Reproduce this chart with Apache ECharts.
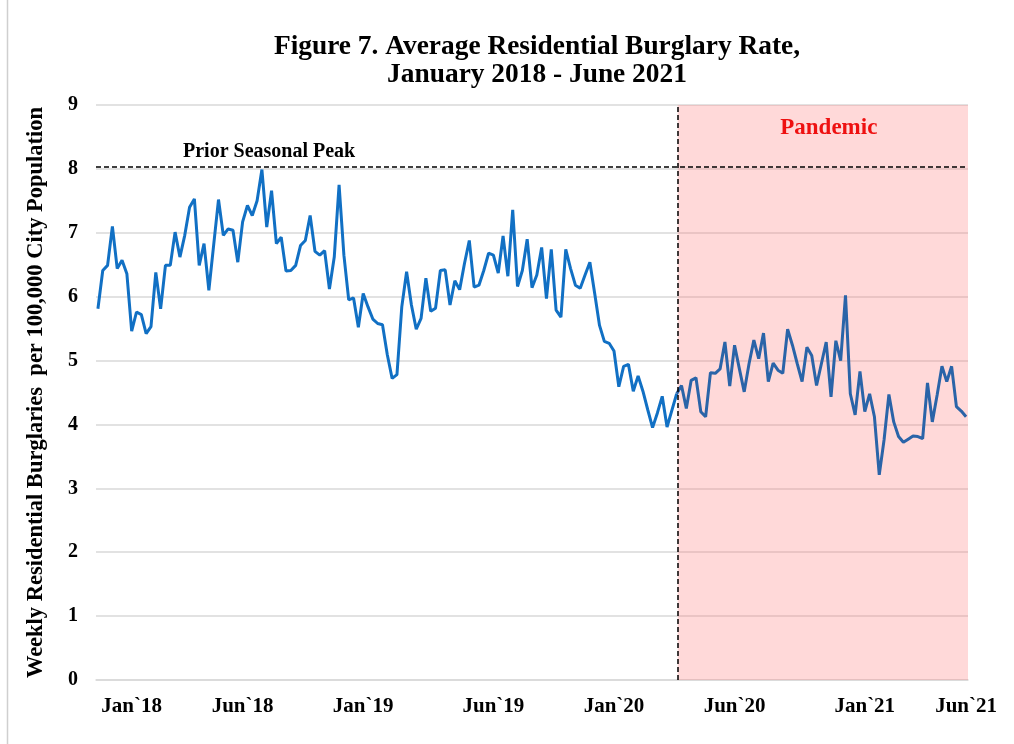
<!DOCTYPE html>
<html>
<head>
<meta charset="utf-8">
<script src="https://cdn.jsdelivr.net/npm/echarts@6/dist/echarts.min.js"></script>
<style>
  body { margin: 0; background: #fff; }
  #chart { width: 1014px; height: 744px; }
</style>
</head>
<body>
<div id="chart"></div>
<script>
// weekly residential burglaries per 100,000, week 0 = first week of Jan 2018
const weeklyRate = [
  5.81, 6.41, 6.49, 7.10, 6.44, 6.57, 6.36, 5.46, 5.76, 5.72,
  5.42, 5.53, 6.38, 5.81, 6.49, 6.49, 7.01, 6.62, 6.96, 7.40,
  7.53, 6.49, 6.83, 6.10, 6.81, 7.52, 6.96, 7.06, 7.04, 6.54,
  7.17, 7.43, 7.27, 7.50, 7.99, 7.09,
  7.66, 6.83, 6.93, 6.40, 6.41, 6.49, 6.80, 6.88, 7.27, 6.71,
  6.65, 6.72, 6.12, 6.62, 7.75, 6.65, 5.95, 5.98, 5.52, 6.05,
  5.84, 5.65, 5.58, 5.56, 5.09, 4.72, 4.78, 5.84, 6.39, 5.87,
  5.49, 5.66, 6.29, 5.77, 5.82, 6.41,
  6.42, 5.87, 6.25, 6.11, 6.52, 6.88, 6.15, 6.18, 6.41, 6.68,
  6.65, 6.37, 6.95, 6.32, 7.36, 6.16, 6.41, 6.90, 6.14, 6.34,
  6.77, 5.97, 6.74, 5.79, 5.68, 6.74, 6.44, 6.18, 6.13, 6.34,
  6.54, 6.05, 5.55, 5.30, 5.27, 5.15,
  4.59, 4.91, 4.94, 4.52, 4.76, 4.52, 4.23, 3.95, 4.18, 4.44,
  3.96, 4.22, 4.48, 4.61, 4.25, 4.69, 4.73, 4.20, 4.12, 4.81,
  4.80, 4.87, 5.29, 4.60, 5.24, 4.87, 4.51, 4.95, 5.32, 5.03,
  5.43, 4.67, 4.96, 4.85, 4.80, 5.49,
  5.24, 4.95, 4.67, 5.21, 5.08, 4.61, 4.95, 5.29, 4.43, 5.31,
  5.00, 6.02, 4.48, 4.15, 4.83, 4.20, 4.48, 4.12, 3.21, 3.76,
  4.47, 4.04, 3.81, 3.72, 3.77, 3.82, 3.81, 3.78, 4.65, 4.04,
  4.46, 4.91, 4.67, 4.91, 4.28, 4.21, 4.12
];

// x axis labels and the week they sit under
const tickLabels = ['Jan`18', 'Jun`18', 'Jan`19', 'Jun`19', 'Jan`20', 'Jun`20', 'Jan`21', 'Jun`21'];
const tickWeeks = [7, 30, 55, 82, 107, 132, 159, 180];

const pandemicStart = 120.2; // week where the pandemic period starts
const pandemicWeek = 120;    // last plotted week before the band, shared by both pieces
const priorPeak = 8.03;      // prior seasonal peak level

const serif = 'Liberation Serif, Times New Roman, serif';

const points = weeklyRate.map((v, i) => [i, v]);
const before = points.slice(0, pandemicWeek + 1);
const during = points.slice(pandemicWeek);

const chart = echarts.init(document.getElementById('chart'));

const option = {
  animation: false,
  title: {
    text: 'Figure 7. Average Residential Burglary Rate,\nJanuary 2018 - June 2021',
    left: 532,
    top: 28,
    textAlign: 'center',
    textStyle: {
      fontFamily: serif,
      fontWeight: 'bold',
      fontSize: 27.4,
      lineHeight: 28,
      color: '#000'
    }
  },
  graphic: [
    {
      type: 'line',
      shape: { x1: 7.5, y1: 0, x2: 7.5, y2: 744 },
      style: { stroke: '#cfcfcf', lineWidth: 1.5 }
    }
  ],
  grid: { left: 96, right: 46, top: 105, bottom: 64 },
  xAxis: {
    type: 'value',
    min: -0.4,
    max: 180.4,
    splitLine: { show: false },
    axisTick: { show: false },
    axisLine: { show: true, lineStyle: { color: '#d9d9d9', width: 1.5 } },
    axisLabel: {
      customValues: tickWeeks,
      formatter: (v) => tickLabels[tickWeeks.indexOf(v)] || '',
      fontFamily: serif,
      fontWeight: 'bold',
      fontSize: 21,
      color: '#000',
      margin: 16
    }
  },
  yAxis: {
    type: 'value',
    min: 0,
    max: 9,
    interval: 1,
    name: 'Weekly Residential Burglaries  per 100,000 City Population',
    nameLocation: 'middle',
    nameGap: 48,
    nameTextStyle: {
      fontFamily: serif,
      fontWeight: 'bold',
      fontSize: 22.5,
      color: '#000'
    },
    axisLine: { show: false },
    axisTick: { show: false },
    splitLine: { lineStyle: { color: '#d9d9d9', width: 1.5 } },
    axisLabel: {
      fontFamily: serif,
      fontWeight: 'bold',
      fontSize: 20,
      color: '#000',
      margin: 18
    }
  },
  series: [
    {
      name: 'Before pandemic',
      type: 'line',
      data: before,
      showSymbol: false,
      z: 3,
      lineStyle: { width: 3, color: '#1170c4' },
      markArea: {
        silent: true,
        itemStyle: { color: 'rgba(255,120,120,0.28)' },
        label: {
          show: true,
          position: 'insideTop',
          distance: 12,
          padding: [0, 0, 0, 12],
          formatter: 'Pandemic',
          fontFamily: serif,
          fontWeight: 'bold',
          fontSize: 23,
          color: '#ee1111'
        },
        data: [[{ coord: [pandemicStart, 9] }, { coord: [180.4, 0] }]]
      },
      markLine: {
        silent: true,
        symbol: 'none',
        lineStyle: { color: '#000', type: [5, 3], width: 1.5 },
        data: [
          {
            yAxis: priorPeak,
            label: {
              show: true,
              position: 'insideStartTop',
              formatter: 'Prior Seasonal Peak',
              padding: [0, 0, 0, 82],
              fontFamily: serif,
              fontWeight: 'bold',
              fontSize: 20,
              color: '#000'
            }
          },
          { xAxis: pandemicStart, label: { show: false } }
        ]
      }
    },
    {
      name: 'Pandemic',
      type: 'line',
      data: during,
      showSymbol: false,
      z: 3,
      lineStyle: { width: 3, color: '#2a64a8' }
    }
  ]
};

chart.setOption(option);
</script>
</body>
</html>
